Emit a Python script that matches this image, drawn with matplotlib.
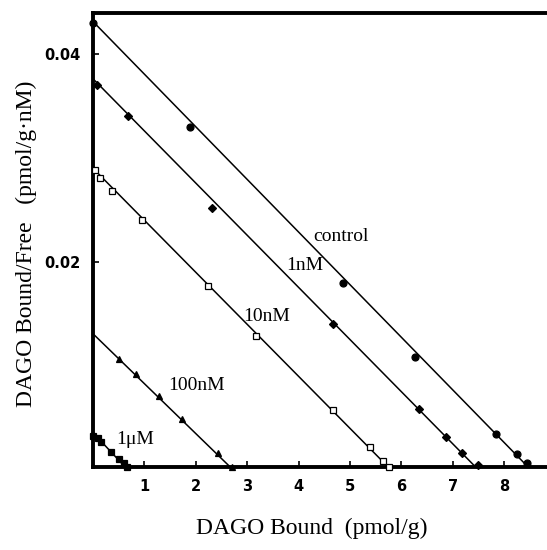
import matplotlib.pyplot as plt

# Scatchard data: bound (pmol/g) vs bound/free (pmol/g.nM)
control_x = [0.0, 1.88, 4.87, 6.27, 7.84, 8.25, 8.45]
control_y = [0.0430, 0.0330, 0.0180, 0.0109, 0.0035, 0.0015, 0.0007]

nm1_x = [0.07, 0.68, 2.31, 4.66, 6.35, 6.87, 7.18, 7.48]
nm1_y = [0.0370, 0.0340, 0.0252, 0.0140, 0.0059, 0.0032, 0.0016, 0.0005]

nm10_x = [0.03, 0.13, 0.36, 0.96, 2.23, 3.18, 4.66, 5.38, 5.65, 5.75]
nm10_y = [0.0288, 0.0281, 0.0268, 0.0240, 0.0177, 0.0129, 0.0058, 0.0022, 0.0009, 0.0003]

nm100_x = [0.51, 0.83, 1.28, 1.74, 2.44, 2.71]
nm100_y = [0.0107, 0.0092, 0.0071, 0.0049, 0.0016, 0.0003]

um1_x = [0.0, 0.09, 0.15, 0.35, 0.51, 0.60, 0.66]
um1_y = [0.0033, 0.0031, 0.0027, 0.0017, 0.0011, 0.0007, 0.0003]

# fitted lines: y-intercept and x-intercept (Bmax)
fit_y0 = [0.0431, 0.0376, 0.0290, 0.0131, 0.0036]
fit_bmax = [8.52, 7.50, 5.80, 2.73, 0.68]

labels = ['control', '1nM', '10nM', '100nM', '1\u03bcM']
label_x = [4.29, 3.75, 2.93, 1.46, 0.45]
label_y = [0.0224, 0.0197, 0.0148, 0.0081, 0.0029]

series = [
    (control_x, control_y, 'o', 'k', 5),
    (nm1_x, nm1_y, 'D', 'k', 4),
    (nm10_x, nm10_y, 's', 'white', 4),
    (nm100_x, nm100_y, '^', 'k', 4),
    (um1_x, um1_y, 's', 'k', 4),
]

fig = plt.figure(figsize=(5.47, 5.5), dpi=100)
ax = fig.add_axes([0.170, 0.151, 0.830, 0.825])

for (xs, ys, m, fc, ms), y0, bmax in zip(series, fit_y0, fit_bmax):
    ax.plot([0, bmax], [y0, 0], color='k', linewidth=1.1, zorder=2)
    ax.plot(xs, ys, linestyle='none', marker=m, markersize=ms,
            markerfacecolor=fc, markeredgecolor='k', markeredgewidth=0.9,
            zorder=3, clip_on=False)

ax.set_xlim(0, 8.83)
ax.set_ylim(0.0003, 0.0439)

ax.set_xticks([1, 2, 3, 4, 5, 6, 7, 8])
ax.set_yticks([0.02, 0.04])
ax.set_yticklabels(['0.02', '0.04'])
ax.tick_params(direction='in', length=4, width=1.2, pad=9)
for lab in ax.get_xticklabels() + ax.get_yticklabels():
    lab.set_fontfamily('Liberation Sans Narrow')
    lab.set_fontweight('bold')
    lab.set_fontsize(10.5)

for side in ['left', 'bottom', 'top']:
    ax.spines[side].set_linewidth(2.8)
ax.spines['right'].set_visible(False)

serif = 'Liberation Serif'
for txt, lx, ly in zip(labels, label_x, label_y):
    ax.text(lx, ly, txt, fontsize=14, family=serif, va='center')

fig.text(0.570, 0.040, 'DAGO Bound  (pmol/g)', ha='center', va='center',
         fontsize=17, family=serif)
fig.text(0.048, 0.556, 'DAGO Bound/Free   (pmol/g\u00b7nM)', ha='center',
         va='center', rotation=90, fontsize=17, family=serif)

fig.savefig('out.png', dpi=100)
